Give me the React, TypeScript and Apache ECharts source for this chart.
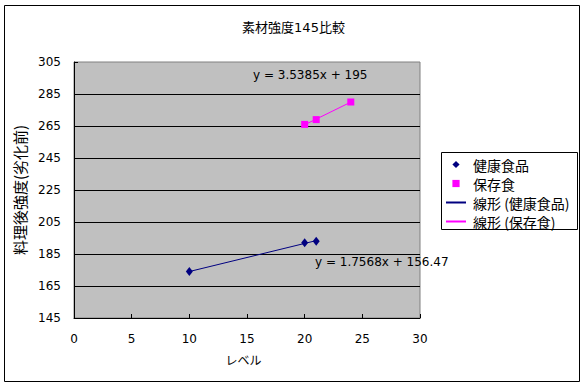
import React, { useEffect, useRef } from "react";
import * as echarts from "echarts";

const titleText = "素材強度145比較";
const xName = "レベル";
const yName = "料理後強度(劣化前)";

const healthName = "健康食品";
const healthX = [10, 20, 21];
const healthY = [174, 192, 193];

const storageName = "保存食";
const storageX = [20, 21, 24];
const storageY = [266, 269, 280];

const healthTrendName = "線形 (健康食品)";
const healthTrendCoef = [1.7568, 156.47];
const storageTrendName = "線形 (保存食)";
const storageTrendCoef = [3.5385, 195];

const NUM_FONT = "'DejaVu Sans', 'Noto Sans CJK JP', sans-serif";
const JP_FONT = "'Noto Sans CJK JP', 'DejaVu Sans', sans-serif";

function zip(xs: number[], ys: number[]) {
  return xs.map((x, i) => [x, ys[i]]);
}

function trend(xs: number[], coef: number[]) {
  const lo = Math.min(...xs);
  const hi = Math.max(...xs);
  return [
    [lo, coef[0] * lo + coef[1]],
    [hi, coef[0] * hi + coef[1]],
  ];
}

export default function App() {
  const ref = useRef<HTMLDivElement>(null);
  useEffect(() => {
    if (!ref.current) return;
    const chart = echarts.init(ref.current, undefined, { renderer: "svg" });
    const option: any = {
      animation: false,
      backgroundColor: "#ffffff",
      title: {
        text: titleText,
        left: "center",
        top: 16,
        textStyle: {
          fontSize: 13,
          fontWeight: "normal",
          color: "#000",
          fontFamily: NUM_FONT,
        },
      },
      grid: {
        left: 74,
        top: 62,
        width: 346,
        height: 256,
        show: true,
        backgroundColor: "#C0C0C0",
        borderColor: "#808080",
        borderWidth: 1,
      },
      xAxis: {
        type: "value",
        min: 0,
        max: 30,
        interval: 5,
        name: xName,
        nameLocation: "middle",
        nameGap: 35,
        nameTextStyle: {
          fontSize: 12,
          color: "#000",
          fontFamily: JP_FONT,
          padding: [0, 7, 0, 0],
        },
        axisLine: { show: true, onZero: false, lineStyle: { color: "#000", width: 1 } },
        axisTick: { show: true, inside: true, length: 4, lineStyle: { color: "#000" } },
        axisLabel: { color: "#000", fontSize: 12, fontFamily: NUM_FONT, margin: 15 },
        splitLine: { show: false },
      },
      yAxis: {
        type: "value",
        min: 145,
        max: 305,
        interval: 20,
        name: yName,
        nameLocation: "middle",
        nameGap: 41,
        nameTextStyle: {
          fontSize: 15,
          color: "#000",
          fontFamily: JP_FONT,
        },
        axisLine: { show: true, onZero: false, lineStyle: { color: "#000", width: 1 } },
        axisTick: { show: true, inside: true, length: 4, lineStyle: { color: "#000" } },
        axisLabel: { color: "#000", fontSize: 12, fontFamily: NUM_FONT, margin: 13 },
        splitLine: {
          show: true,
          showMaxLine: false,
          lineStyle: { color: "#000", width: 1, type: "solid" },
        },
      },
      legend: {
        orient: "vertical",
        left: 445,
        top: 155,
        padding: 0,
        itemWidth: 20,
        itemHeight: 9,
        itemGap: 0,
        textStyle: {
          fontSize: 14,
          lineHeight: 19,
          color: "#000",
          fontFamily: JP_FONT,
          padding: [0, 0, 0, 2],
        },
        data: [healthName, storageName, healthTrendName, storageTrendName],
      },
      graphic: [
        {
          type: "rect",
          silent: true,
          shape: { x: 4.5, y: 5.5, width: 575, height: 376 },
          style: { fill: "none", stroke: "#000", lineWidth: 1 },
          z: 100,
        },
        {
          type: "rect",
          silent: true,
          shape: { x: 441.5, y: 152.5, width: 136, height: 77 },
          style: { fill: "none", stroke: "#000", lineWidth: 1 },
          z: 100,
        },
        {
          type: "text",
          x: 253,
          y: 75,
          z: 100,
          style: {
            text: `y = ${storageTrendCoef[0]}x + ${storageTrendCoef[1]}`,
            font: `12px ${NUM_FONT}`,
            fill: "#000",
            verticalAlign: "middle",
          },
        },
        {
          type: "text",
          x: 315,
          y: 262,
          z: 100,
          style: {
            text: `y = ${healthTrendCoef[0]}x + ${healthTrendCoef[1]}`,
            font: `12px ${NUM_FONT}`,
            fill: "#000",
            verticalAlign: "middle",
          },
        },
      ],
      series: [
        {
          name: healthTrendName,
          type: "line",
          data: trend(healthX, healthTrendCoef),
          symbol: "none",
          showSymbol: false,
          itemStyle: { color: "#000080", opacity: 0 },
          lineStyle: { color: "#000080", width: 1 },
          z: 2,
        },
        {
          name: storageTrendName,
          type: "line",
          data: trend(storageX, storageTrendCoef),
          symbol: "none",
          showSymbol: false,
          itemStyle: { color: "#FF00FF", opacity: 0 },
          lineStyle: { color: "#FF00FF", width: 1 },
          z: 2,
        },
        {
          name: healthName,
          type: "line",
          data: zip(healthX, healthY),
          symbol: "diamond",
          symbolSize: [7, 9],
          itemStyle: { color: "#000080" },
          lineStyle: { width: 0, opacity: 0 },
          z: 3,
        },
        {
          name: storageName,
          type: "line",
          data: zip(storageX, storageY),
          symbol: "rect",
          symbolSize: 7,
          itemStyle: { color: "#FF00FF" },
          lineStyle: { width: 0, opacity: 0 },
          z: 3,
        },
      ],
    };
    chart.setOption(option);
    return () => chart.dispose();
  }, []);
  return (
    <div
      ref={ref}
      style={{ position: "absolute", left: 0, top: 0, width: 587, height: 386 }}
    />
  );
}
